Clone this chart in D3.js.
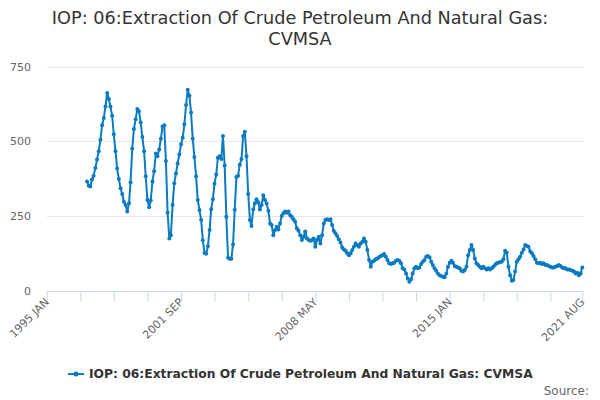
<!DOCTYPE html>
<html>
<head>
<meta charset="utf-8">
<script src="https://cdn.jsdelivr.net/npm/d3@7"></script>
<style>
  html, body { margin: 0; padding: 0; background: #fff; }
  svg { display: block; font-family: "DejaVu Sans", sans-serif; }
</style>
</head>
<body>
<svg id="chart" width="600" height="400"></svg>
<script>
// ---- data ----
const seriesName = "IOP: 06:Extraction Of Crude Petroleum And Natural Gas: CVMSA";
const titleLines = ["IOP: 06:Extraction Of Crude Petroleum And Natural Gas:", "CVMSA"];
const startYear = 1997, startMonth = 0; // first observation: 1997 JAN (monthly)
const values1997_2004 = [366,351,349,372,385,411,439,467,505,554,578,617,662,642,617,586,524,467,409,374,343,324,298,287,265,293,363,476,541,574,608,601,563,515,467,383,304,279,302,366,400,459,450,473,509,550,554,434,261,175,186,287,360,392,426,456,490,512,557,622,673,653,597,509,448,383,304,270,237,169,126,124,149,203,273,306,358,389,445,450,441,518,419,248,110,107,107,155,271,381,385,422,441,518,532,450];
const values2005_2009 = [324,237,217,272,292,306,296,272,287,320,304,292,268,225,220,186,203,214,205,225,250,259,265,261,265,253,248,239,231,209,201,186,170,181,198,175,170,167,170,175,147,170,181,158,186,225,237,239,237,239,220,201,192];
const values2009_2012 = [183,172,161,145,138,134,125,119,125,136,147,158,153,147,158,164,175,164,136,103,80,97,100,105,108,112,116,119,123,114,103,92,89,92,94,100,103,100,92,75];
const values2012_2016 = [71,58,41,30,38,58,75,80,75,78,89,97,103,114,116,112,97,86,75,67,58,52,49,47,45,58,80,94,100,94,83,80,78,75,67,64,69,80,119,136,153,136,108,92,86,80,75,80,75,71,75];
const values2017_2021 = [71,75,80,86,92,94,96,97,105,134,127,80,52,33,36,64,97,105,114,127,138,153,150,147,131,125,116,105,94,92,94,89,92,86,86,83,80,78,78,80,83,86,83,78,75,75,71,71,69,67,64,58,60,52,58,78];
const yTicks = [0, 250, 500, 750];
const xTickLabels = ["1995 JAN", "2001 SEP", "2008 MAY", "2015 JAN", "2021 AUG"];
const monthNames = ["JAN","FEB","MAR","APR","MAY","JUN","JUL","AUG","SEP","OCT","NOV","DEC"];

const values = [].concat(values1997_2004, values2005_2009, values2009_2012, values2012_2016, values2017_2021);
const data = values.map((v, i) => ({ date: new Date(startYear, startMonth + i, 1), value: v }));

function parseLabel(s) {
  const [yy, mo] = s.split(" ");
  return new Date(+yy, monthNames.indexOf(mo), 1);
}
const labelDates = xTickLabels.map(parseLabel);
const tickDates = [];
for (let d = new Date(labelDates[0]); d < labelDates[labelDates.length - 1]; d = new Date(d.getFullYear(), d.getMonth() + 20, 1)) tickDates.push(d);
tickDates.push(labelDates[labelDates.length - 1]);

// ---- layout ----
const svg = d3.select("#chart");
const plotL = 46.7, plotR = 582.3, plotT = 66.7, plotB = 290.7;
const x = d3.scaleTime().domain([labelDates[0], labelDates[labelDates.length - 1]]).range([plotL, plotR]);
const y = d3.scaleLinear().domain([0, 750]).range([plotB, plotT]);

// title
svg.append("g").selectAll("text").data(titleLines).join("text")
  .attr("x", 300).attr("y", (d, i) => 24 + i * 21)
  .attr("text-anchor", "middle").attr("fill", "#333333")
  .style("font-size", "17.7px").text(d => d);

// gridlines
svg.append("g").selectAll("line").data(yTicks.filter(t => t > 0)).join("line")
  .attr("x1", plotL).attr("x2", plotR + 1)
  .attr("y1", d => Math.round(y(d)) + 0.5).attr("y2", d => Math.round(y(d)) + 0.5)
  .attr("stroke", "#e6e6e6").attr("stroke-width", 1);

// y labels
svg.append("g").selectAll("text").data(yTicks).join("text")
  .attr("x", 31).attr("y", d => y(d) + 4)
  .attr("text-anchor", "end").attr("fill", "#666666")
  .style("font-size", "11px").text(d => d);

// x axis
const xAxis = d3.axisBottom(x).tickValues(tickDates).tickSize(10).tickFormat("");
const gx = svg.append("g").attr("transform", `translate(0,${Math.round(plotB) + 0.5})`).call(xAxis);
gx.select(".domain").attr("stroke", "#ccd6eb").attr("d", `M${plotL},0H${plotR + 1}`);
gx.selectAll(".tick line").attr("stroke", "#ccd6eb");

svg.append("g").selectAll("text").data(labelDates).join("text")
  .attr("transform", d => `translate(${x(d) + 3},${plotB + 12}) rotate(-45)`)
  .attr("text-anchor", "end").attr("fill", "#666666")
  .style("font-size", "11px").text((d, i) => xTickLabels[i]);

// series
const color = "#0a7bc1";
const line = d3.line().x(d => x(d.date)).y(d => y(d.value));
svg.append("path").datum(data).attr("d", line)
  .attr("fill", "none").attr("stroke", color).attr("stroke-width", 2)
  .attr("stroke-linejoin", "round").attr("stroke-linecap", "round");
svg.append("g").selectAll("circle").data(data).join("circle")
  .attr("cx", d => x(d.date)).attr("cy", d => y(d.value)).attr("r", 2)
  .attr("fill", color);

// legend
const lg = svg.append("g");
lg.append("line").attr("x1", 68).attr("x2", 84).attr("y1", 374).attr("y2", 374)
  .attr("stroke", color).attr("stroke-width", 2);
lg.append("circle").attr("cx", 76).attr("cy", 374).attr("r", 2.5).attr("fill", color);
lg.append("text").attr("x", 89).attr("y", 378).attr("fill", "#333333")
  .style("font-size", "12.3px").style("font-weight", "bold").text(seriesName);

// source
svg.append("text").attr("x", 589).attr("y", 395).attr("text-anchor", "end")
  .attr("fill", "#666666").style("font-size", "12px").text("Source:");
</script>
</body>
</html>
